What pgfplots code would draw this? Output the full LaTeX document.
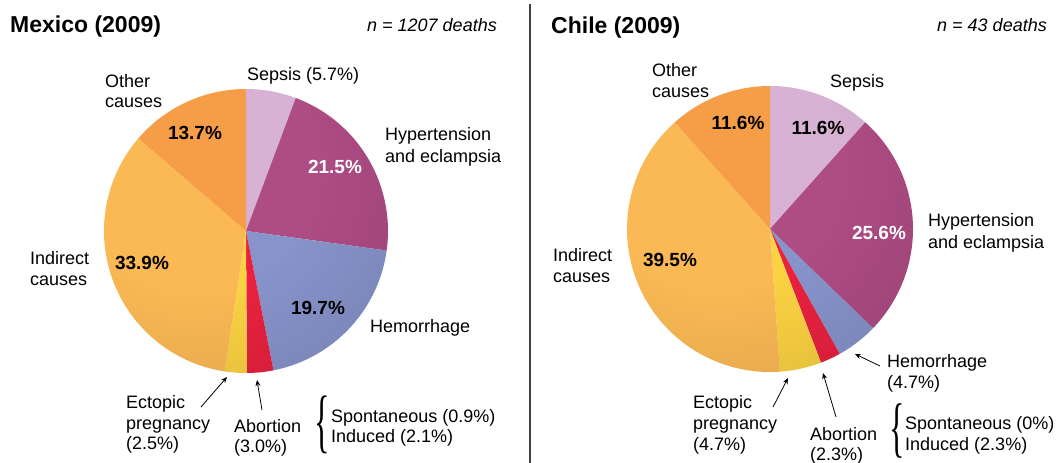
\documentclass[border=0pt]{standalone}
\usepackage{pgfplots}
\pgfplotsset{compat=1.18}
\usetikzlibrary{arrows.meta}
\usepackage{fontspec}
\setmainfont{Liberation Sans}
\newfontfamily\libserif{Liberation Serif}

\definecolor{cSep}{HTML}{D7B2D4}
\definecolor{cHyp}{HTML}{AE4C84}
\definecolor{cHem}{HTML}{8794CB}
\definecolor{cAbo}{HTML}{E8223F}
\definecolor{cEct}{HTML}{FBD242}
\definecolor{cInd}{HTML}{FAB954}
\definecolor{cOth}{HTML}{F59E47}

\pgfdeclareradialshading{rim}{\pgfpoint{-12bp}{15bp}}{color(0bp)=(white); color(22bp)=(white); color(50bp)=(black!14); color(66bp)=(black!22); color(90bp)=(black!22)}

% pie slice: #1 = percentage, #2 = colour; uses \cx,\cy,\r and running \cum
\def\cum{0}
\newcommand{\slice}[2]{%
  \pgfmathsetmacro\sa{\cum*3.6}%
  \pgfmathsetmacro\sb{(\cum+#1)*3.6}%
  \pgfmathsetmacro\st{(\sb-\sa)/59}%
  \pgfmathsetmacro\sbb{\sb+\st}%
  \pgfmathsetmacro\sth{\sb+0.5*\st}%
  \edef\temp{\noexpand\addplot[fill=#2, draw=none, domain=\sa:\sbb, samples=61]
    ({\cx+ifthenelse(x>\sth,0,\r)*sin(min(x,\sb))},
     {\cy-ifthenelse(x>\sth,0,\r)*cos(min(x,\sb))});}%
  \temp
  \pgfmathsetmacro\newcum{\cum+#1}%
  \xdef\cum{\newcum}%
}
\newcommand{\lab}[3]{\node[anchor=base west, inner sep=0pt] at (axis cs:#1,#2) {#3};}
\newcommand{\pct}[4][black]{\node[font=\fontsize{19}{21}\selectfont\bfseries, text=#1, inner sep=0pt] at (axis cs:#2,#3) {#4};}
\newcommand{\bigbrace}[3]{\node[anchor=base west, inner sep=0pt] at (axis cs:#1,#2) {\scalebox{0.8}[#3]{\fontsize{40}{40}\selectfont\libserif\{}};}

\begin{document}
\begin{tikzpicture}[font=\fontsize{18}{21}\selectfont]
\begin{axis}[
  at={(0,0)}, anchor=south west,
  width=1058pt, height=463pt, scale only axis,
  xmin=0, xmax=1058, ymin=0, ymax=463, y dir=reverse,
  hide axis, clip=false]

% ---------------- Mexico ----------------
\def\cx{246}\def\cy{231}\def\r{142}\gdef\cum{0}
\slice{5.7}{cSep}
\slice{21.5}{cHyp}
\slice{19.7}{cHem}
\slice{3.0}{cAbo}
\slice{2.5}{cEct}
\slice{33.9}{cInd}
\slice{13.7}{cOth}
\shade[shading=rim, blend mode=multiply] (axis cs:246,231) circle[radius=142];

% ---------------- Chile ----------------
\def\cx{770}\def\cy{229}\def\r{143}\gdef\cum{0}
\slice{11.6}{cSep}
\slice{25.6}{cHyp}
\slice{4.7}{cHem}
\slice{2.3}{cAbo}
\slice{4.7}{cEct}
\slice{39.5}{cInd}
\slice{11.6}{cOth}
\shade[shading=rim, blend mode=multiply] (axis cs:770,229) circle[radius=143];

% divider
\draw[line width=1.2pt, black!75] (axis cs:530,4) -- (axis cs:530,463);

% titles
\node[anchor=base west, inner sep=0pt, font=\fontsize{23}{25}\selectfont\bfseries] at (axis cs:10,32) {Mexico (2009)};
\node[anchor=base east, inner sep=0pt, font=\fontsize{18}{20}\selectfont\itshape] at (axis cs:497,31) {n = 1207 deaths};
\node[anchor=base west, inner sep=0pt, font=\fontsize{23}{25}\selectfont\bfseries] at (axis cs:551,33) {Chile (2009)};
\node[anchor=base east, inner sep=0pt, font=\fontsize{18}{20}\selectfont\itshape] at (axis cs:1047,31) {n = 43 deaths};

% Mexico labels
\lab{105}{87}{Other}
\lab{105}{107}{causes}
\lab{247}{80}{Sepsis (5.7\%)}
\lab{385}{140}{Hypertension}
\lab{385}{162}{and eclampsia}
\lab{370}{332}{Hemorrhage}
\lab{30}{264}{Indirect}
\lab{30}{285}{causes}
\lab{126}{408}{Ectopic}
\lab{126}{429}{pregnancy}
\lab{126}{449}{(2.5\%)}
\lab{234}{432}{Abortion}
\lab{234}{452}{(3.0\%)}
\bigbrace{314}{444}{1.75}
\lab{331}{422}{Spontaneous (0.9\%)}
\lab{331}{442}{Induced (2.1\%)}
\pct{195}{133}{13.7\%}
\pct[white]{335}{167}{21.5\%}
\pct{142}{263}{33.9\%}
\pct{318}{308}{19.7\%}
\draw[-{Stealth[length=6pt,width=5pt]}, line width=0.8pt] (axis cs:201,407) -- (axis cs:227,377);
\draw[-{Stealth[length=6pt,width=5pt]}, line width=0.8pt] (axis cs:262,410) -- (axis cs:257,380);

% Chile labels
\lab{652}{76}{Other}
\lab{652}{97}{causes}
\lab{830}{87}{Sepsis}
\lab{928}{226}{Hypertension}
\lab{928}{248}{and eclampsia}
\lab{553}{261}{Indirect}
\lab{553}{282}{causes}
\lab{887}{367}{Hemorrhage}
\lab{887}{388}{(4.7\%)}
\lab{693}{408}{Ectopic}
\lab{693}{429}{pregnancy}
\lab{693}{450}{(4.7\%)}
\lab{810}{440}{Abortion}
\lab{810}{460}{(2.3\%)}
\bigbrace{889}{449}{1.65}
\lab{905}{429}{Spontaneous (0\%)}
\lab{905}{450}{Induced (2.3\%)}
\pct{738}{123}{11.6\%}
\pct{818}{128}{11.6\%}
\pct[white]{879}{233}{25.6\%}
\pct{670}{260}{39.5\%}
\draw[-{Stealth[length=6pt,width=5pt]}, line width=0.8pt] (axis cs:880,366) -- (axis cs:855,354);
\draw[-{Stealth[length=6pt,width=5pt]}, line width=0.8pt] (axis cs:773,407) -- (axis cs:788,378);
\draw[-{Stealth[length=6pt,width=5pt]}, line width=0.8pt] (axis cs:836,417) -- (axis cs:823,373);
\end{axis}
\pgfresetboundingbox
\path (0,0) rectangle (1058pt,463pt);
\end{tikzpicture}
\end{document}
